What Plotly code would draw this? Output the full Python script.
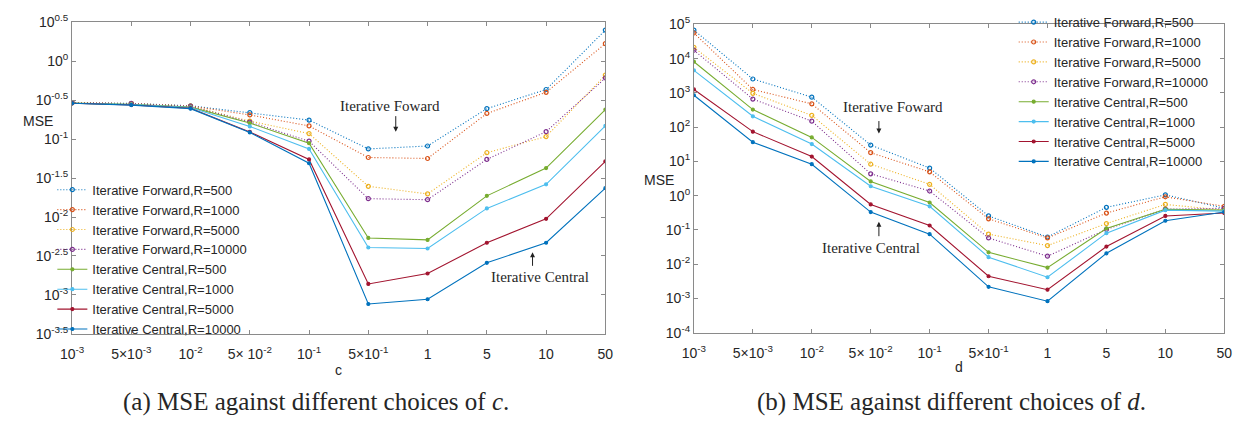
import plotly.graph_objects as go

# ---------------- data ----------------
categories = ["0.001", "0.005", "0.01", "0.05", "0.1", "0.5", "1", "5", "10", "50"]
tick_labels = ["10<sup>-3</sup>", "5×10<sup>-3</sup>", "10<sup>-2</sup>", "5× 10<sup>-2</sup>",
               "10<sup>-1</sup>", "5×10<sup>-1</sup>", "1", "5", "10", "50"]
series_names = ["Iterative Forward,R=500", "Iterative Forward,R=1000",
                "Iterative Forward,R=5000", "Iterative Forward,R=10000",
                "Iterative Central,R=500", "Iterative Central,R=1000",
                "Iterative Central,R=5000", "Iterative Central,R=10000"]

# (a) MSE vs c
c_F500 = [0.295, 0.288, 0.269, 0.220, 0.176, 0.0750, 0.0817, 0.247, 0.435, 2.52]
c_F1000 = [0.294, 0.287, 0.267, 0.205, 0.148, 0.0582, 0.0565, 0.214, 0.400, 1.69]
c_F5000 = [0.293, 0.286, 0.266, 0.171, 0.118, 0.0248, 0.0198, 0.0670, 0.108, 0.665]
c_F10000 = [0.293, 0.286, 0.265, 0.166, 0.0942, 0.0172, 0.0167, 0.0550, 0.125, 0.611]
c_C500 = [0.291, 0.280, 0.258, 0.161, 0.0889, 0.00538, 0.00508, 0.0187, 0.0426, 0.240]
c_C1000 = [0.290, 0.278, 0.255, 0.146, 0.0750, 0.00406, 0.00394, 0.0129, 0.0263, 0.148]
c_C5000 = [0.290, 0.275, 0.250, 0.124, 0.0550, 0.00138, 0.00188, 0.00467, 0.00948, 0.0519]
c_C10000 = [0.289, 0.274, 0.247, 0.122, 0.0491, 0.000762, 0.000877, 0.00258, 0.00467, 0.0235]

# (b) MSE vs d
d_F500 = [67900, 2550, 752, 30.1, 6.42, 0.257, 0.0624, 0.459, 1.06, 0.431]
d_F1000 = [56000, 1260, 479, 18.0, 4.97, 0.212, 0.0585, 0.312, 0.931, 0.490]
d_F5000 = [21300, 973, 221, 8.30, 2.15, 0.0757, 0.0350, 0.154, 0.557, 0.379]
d_F10000 = [17600, 661, 150, 4.36, 1.37, 0.0585, 0.0172, 0.104, 0.404, 0.431]
d_C500 = [8130, 326, 50.3, 2.61, 0.634, 0.0223, 0.00796, 0.111, 0.404, 0.379]
d_C1000 = [4550, 208, 32.1, 1.89, 0.490, 0.0161, 0.00418, 0.0807, 0.379, 0.355]
d_C5000 = [1260, 74.1, 13.9, 0.557, 0.135, 0.00446, 0.00181, 0.0328, 0.257, 0.312]
d_C10000 = [855, 36.5, 8.30, 0.333, 0.0757, 0.00220, 0.000837, 0.0209, 0.186, 0.333]

left_ytick_exp = [-3.5, -3, -2.5, -2, -1.5, -1, -0.5, 0, 0.5]
right_ytick_exp = [-4, -3, -2, -1, 0, 1, 2, 3, 4, 5]

# ---------------- style ----------------
colors = ["#0072BD", "#D95319", "#EDB120", "#7E2F8E",
          "#77AC30", "#4DBEEE", "#A2142F", "#0072BD"]
AX = "#8a8a8a"
TXT = "#262626"
SANS = "Liberation Sans, Arial, sans-serif"
SERIF = "Liberation Serif, Times New Roman, serif"

left_series = [c_F500, c_F1000, c_F5000, c_F10000, c_C500, c_C1000, c_C5000, c_C10000]
right_series = [d_F500, d_F1000, d_F5000, d_F10000, d_C500, d_C1000, d_C5000, d_C10000]

fig = go.Figure()

def add_traces(data, xaxis, yaxis, legend):
    for i, (name, ys) in enumerate(zip(series_names, data)):
        forward = i < 4
        fig.add_trace(go.Scatter(
            x=categories, y=ys, name=name, mode="lines+markers",
            xaxis=xaxis, yaxis=yaxis, legend=legend,
            line=dict(color=colors[i], width=1.1, dash="1px,2px" if forward else "solid"),
            marker=dict(symbol="circle-open" if forward else "circle",
                        size=4 if forward else 3, color=colors[i],
                        line=dict(width=1.2, color=colors[i])),
        ))

add_traces(left_series, "x", "y", "legend")
add_traces(right_series, "x2", "y2", "legend2")

def xaxis_cfg(domain):
    return dict(domain=domain, type="category", categoryorder="array",
                categoryarray=categories, range=[0, 9],
                tickmode="array", tickvals=categories, ticktext=tick_labels,
                ticks="inside", ticklen=4, tickcolor=AX, showline=True,
                linecolor=AX, linewidth=1, mirror="ticks", showgrid=False,
                ticklabelstandoff=7,
                zeroline=False, tickfont=dict(family=SANS, size=14, color=TXT))

def yaxis_cfg(domain, exps, anchor):
    return dict(domain=domain, type="log", range=[exps[0], exps[-1]],
                anchor=anchor, tickmode="array",
                tickvals=[10 ** e for e in exps],
                ticktext=["10<sup>%s</sup>" % (("%g" % e)) for e in exps],
                ticks="inside", ticklen=4, tickcolor=AX, showline=True,
                linecolor=AX, linewidth=1, mirror="ticks", showgrid=False,
                zeroline=False, tickfont=dict(family=SANS, size=14, color=TXT))

W, H = 1250, 427
LEG_FONT = 13
fig.update_layout(
    width=W, height=H, margin=dict(l=0, r=0, t=0, b=0),
    paper_bgcolor="white", plot_bgcolor="white", showlegend=True,
    xaxis=dict(**xaxis_cfg([61 / W, 603 / W]), anchor="y"),
    yaxis=yaxis_cfg([1 - 338 / H, 1 - 13 / H], left_ytick_exp, "x"),
    xaxis2=dict(**xaxis_cfg([693 / W, 1232 / W]), anchor="y2"),
    yaxis2=yaxis_cfg([1 - 337 / H, 1 - 15 / H], right_ytick_exp, "x2"),
    legend=dict(x=41 / W, y=1 - 172 / H, xanchor="left", yanchor="top",
                bgcolor="rgba(0,0,0,0)", itemwidth=30, tracegroupgap=0,
                font=dict(family=SANS, size=LEG_FONT, color=TXT)),
    legend2=dict(x=1018 / W, y=1 + 3 / H, xanchor="left", yanchor="top",
                 bgcolor="rgba(0,0,0,0)", itemwidth=30, tracegroupgap=0,
                 font=dict(family=SANS, size=LEG_FONT, color=TXT)),
)

def text(x, y, s, size, family=SANS, **kw):
    fig.add_annotation(xref="paper", yref="paper", x=x / W, y=1 - y / H, text=s,
                       showarrow=False, font=dict(family=family, size=size, color=TXT),
                       xanchor="center", yanchor="middle", **kw)

def arrow(x, y_tail, y_head):
    fig.add_annotation(xref="paper", yref="paper", axref="pixel", ayref="pixel",
                       x=x / W, y=1 - y_head / H, ax=0, ay=y_tail - y_head, text="",
                       showarrow=True, arrowhead=2, arrowsize=1, arrowwidth=1,
                       arrowcolor="#222222")

# axis titles
text(26, 116, "MSE", 14)
text(332, 376, "c", 14)
text(658, 177, "MSE", 14)
text(962, 373, "d", 14)

# in-plot labels
text(384, 100, "Iterative Foward", 15, SERIF)
arrow(390, 110, 127)
text(537, 279, "Iterative Central", 15, SERIF)
arrow(529, 268, 253)
text(895, 101, "Iterative Foward", 15, SERIF)
arrow(881, 115, 129)
text(873, 248, "Iterative Central", 15, SERIF)
arrow(881, 237, 221)

# captions
text(309, 409, "(a) MSE against different choices of <i>c</i>.", 25, SERIF)
text(955, 409, "(b) MSE against different choices of <i>d</i>.", 25, SERIF)

fig.write_html("out.html")
